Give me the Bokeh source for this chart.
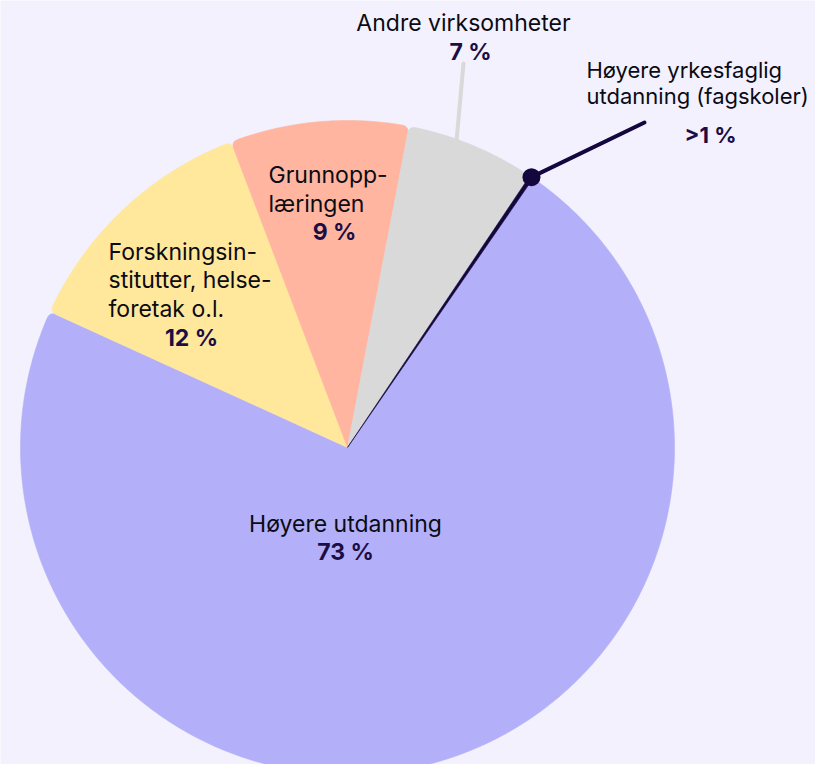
import numpy as np
from bokeh.plotting import figure
from bokeh.models import Range1d, ColumnDataSource
from bokeh.core.properties import value
from bokeh.embed import file_html
from bokeh.resources import INLINE

# ---- data ----
categories = ["Høyere utdanning", "Forskningsinstitutter, helseforetak o.l.",
              "Grunnopplæringen", "Andre virksomheter",
              "Høyere yrkesfaglig utdanning (fagskoler)"]
shares = [72.2, 12.4, 8.8, 6.4, 0.2]
value_labels = ["73 %", "12 %", "9 %", "7 %", ">1 %"]
colors = ["#B3B0F9", "#FFE89C", "#FFB5A0", "#D9D9D9", "#14073D"]

BG = "#F3F1FE"
W, H = 815, 764
FONT = "Inter"

def px(X, Y):
    """screen pixel position -> data coords"""
    return X, H - Y

cx, cy = px(347, 447)
R = 327
RC = 7          # corner rounding radius (px)
start_clock = 34.6  # degrees clockwise from 12 o'clock

p = figure(width=W, height=H, output_backend="svg", toolbar_location=None,
           x_range=Range1d(0, W), y_range=Range1d(0, H), min_border=0)
p.axis.visible = False
p.grid.visible = False
p.outline_line_color = None
p.background_fill_color = BG
p.border_fill_color = BG

fr = np.array(shares) / sum(shares)
cum = np.concatenate([[0], np.cumsum(fr)]) * 360 + start_clock
t0 = cum[:-1]
t1 = cum[1:]

def pt(theta_deg, r):
    a = np.radians(theta_deg)
    return cx + r * np.sin(a), cy + r * np.cos(a)

def bez(p0, c, p2, n=8):
    t = np.linspace(0, 1, n)[:, None]
    P = (1 - t) ** 2 * np.array(p0) + 2 * (1 - t) * t * np.array(c) + t ** 2 * np.array(p2)
    return P

def slice_poly(a, b):
    span = b - a
    d = np.degrees(RC / R)
    pts = [(cx, cy)]
    if span > 4 * d:
        pts += list(bez(pt(a, R - RC), pt(a, R), pt(a + d, R)))
        arc = np.linspace(a + d, b - d, max(int(span * 2), 4))
        pts += [pt(t, R) for t in arc]
        pts += list(bez(pt(b - d, R), pt(b, R), pt(b, R - RC)))
    else:
        arc = np.linspace(a, b, 6)
        pts += [pt(t, R) for t in arc]
    pts = np.array(pts)
    return list(pts[:, 0]), list(pts[:, 1])

xs, ys = zip(*[slice_poly(a, b) for a, b in zip(t0, t1)])
src = ColumnDataSource(dict(xs=list(xs), ys=list(ys), color=colors, cat=categories))
p.patches(xs="xs", ys="ys", fill_color="color", line_color="color",
          line_width=0.6, source=src)

# connector for "Andre virksomheter"
gx0, gy0 = pt(t0[3] + 0.38 * (t1[3] - t0[3]), R - 2)
gx1, gy1 = px(463, 63)
p.segment(x0=gx0, y0=gy0, x1=gx1, y1=gy1, line_color="#D9D9D9",
          line_width=4, line_cap="round")

# connector for fagskoler
dx0, dy0 = pt((t0[4] + t1[4]) / 2, R)
dx1, dy1 = px(644, 122)
p.segment(x0=dx0, y0=dy0, x1=dx1, y1=dy1, line_color="#14073D",
          line_width=4, line_cap="round")
p.scatter(x=[dx0], y=[dy0], size=18, fill_color="#14073D", line_color=None)

LBL = "#0B0B14"
VAL = "#1A0E45"
DY = -9  # baseline correction

def txt(X, Y, s, align="left", bold=False, color=LBL, size="23px"):
    x, y = px(X, Y + DY)
    p.text(x=[x], y=[y], text=[s], text_font=value(FONT),
           text_font_size=size, text_align=align,
           text_baseline="alphabetic", text_color=color,
           text_font_style="bold" if bold else "normal")

# Høyere utdanning
txt(345, 532, "Høyere utdanning", align="center")
txt(345, 560, value_labels[0], align="center", bold=True, color=VAL)
# Forskning
txt(108, 260, "Forskningsin-")
txt(108, 288, "stitutter, helse-")
txt(108, 317, "foretak o.l.")
txt(191, 346, value_labels[1], align="center", bold=True, color=VAL)
# Grunnopplæringen
txt(268, 183, "Grunnopp-")
txt(268, 212, "læringen")
txt(334, 240, value_labels[2], align="center", bold=True, color=VAL)
# Andre
txt(463, 31, "Andre virksomheter", align="center")
txt(470, 60, value_labels[3], align="center", bold=True, color=VAL)
# fagskoler
txt(586, 78, "Høyere yrkesfaglig", size="22px")
txt(586, 104, "utdanning (fagskoler)", size="22px")
txt(710, 143, value_labels[4], align="center", bold=True, color=VAL, size="22px")

open("out.html", "w").write(file_html(p, INLINE))
